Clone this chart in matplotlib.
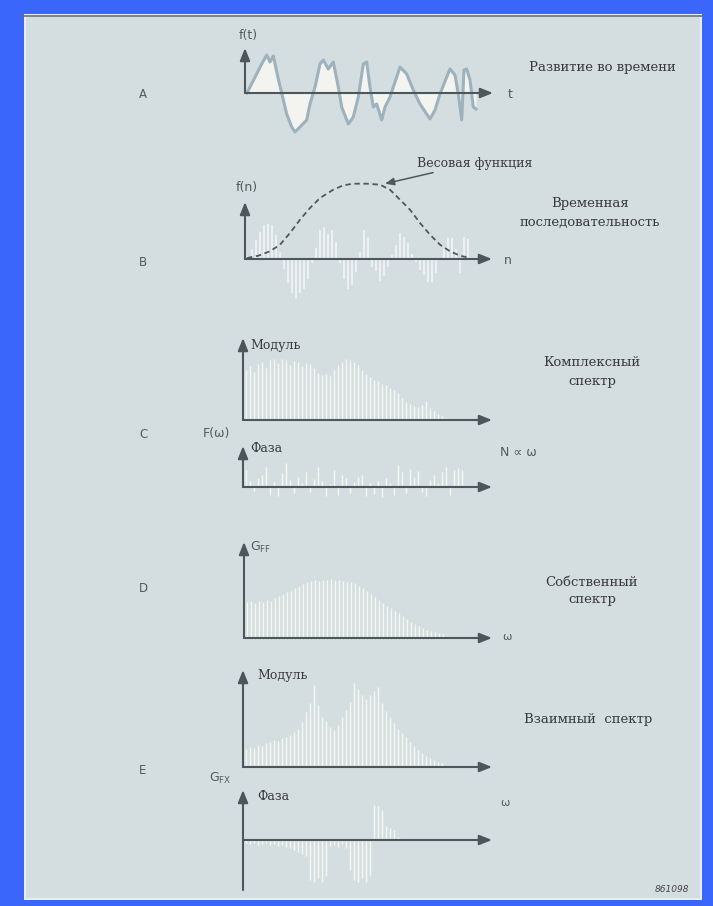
import numpy as np
import matplotlib
matplotlib.use("Agg")
import matplotlib.pyplot as plt
from matplotlib.patches import Rectangle

W, H = 713, 906

BLUE = "#3b66fb"
PAPER = "#d4dee1"
AXIS = "#4d565a"
INK = "#3a3a3a"
LABEL = "#555a5c"
BAR = "#f6f7f3"
CURVE = "#9db2bd"

# A: continuous signal f(t)
sig_t = [2, 16.7, 21.7, 25, 28.3, 33.3, 36.7, 41.7, 46.7, 50, 55, 61.7, 65, 70,
         75, 78.3, 83.3, 88.3, 93.3, 96.7, 103.3, 108.3, 113.3, 118.3, 121.7,
         125, 128.3, 131.7, 136.7, 140, 145, 151.7, 155, 161.7, 168.3, 175, 185,
         190, 195, 201.7, 205, 210, 213.3, 216.7, 219, 221.7, 225, 228.3, 231]
sig_f = [0, 29, 38, 31, 37, 14, 0, -21, -34, -39, -34, -27, -11, 6,
         29, 33, 24, 31, 6, -14, -31, -24, -4, 29, 31,
         6, -14, -11, -27, -14, -4, 16, 26, 19, 3, -11, -26,
         -17, -1, 16, 24, 18, -1, -27, 23, 24, 13, -14, -16]

# B: sampled sequence f(n) and weighting window
samp_f = [3, 10, 19, 27, 34, 35, 34, 24, 7, -10, -24, -34, -39, -34, -30, -20,
          -4, 11, 29, 32, 25, 29, 17, -4, -20, -30, -26, -13, 7, 29, 22, -8,
          -12, -22, -17, -8, 4, 14, 26, 22, 16, 5, -3, -11, -16, -23, -23, -14,
          -1, 10, 21, 21, 10, -14, 22, 20]
win_n = [2, 13.3, 25, 35, 45, 55, 65, 75, 88.3, 98.3, 108.3, 121.7, 135, 145,
         155, 165, 175, 185, 195, 205, 215, 225]
win_w = [1, 3.3, 7.7, 14.3, 26, 39.3, 51, 61, 69.3, 73.7, 75.3, 75.3, 74.3, 69.3,
         59.3, 49.3, 36, 24.3, 14.3, 7.7, 3.3, 1]

# C: complex spectrum, modulus and phase
c_mod = [50, 54, 48, 56, 58, 52, 60, 61, 57, 61, 60, 55, 59, 58, 54, 57, 56, 52,
         47, 45, 46, 44, 50, 55, 58, 61, 60, 58, 55, 50, 46, 43, 40, 39, 36, 35,
         32, 30, 27, 22, 18, 16, 14, 13, 15, 19, 12, 9, 6, 4, 2]
c_phase = [17, 6, -4, 9, 12, 20, -8, 5, -9, 14, 24, 7, -6, 10, 4, 15, -5, 8, 20,
           6, -9, 3, 17, -8, 12, 9, -6, 5, 10, 12, -9, 4, -7, 6, -10, 9, 4, -8,
           22, 15, -6, 18, 10, 16, -5, -9, 7, 12, 4, 15, 20, -8, 17, 19, 17]

# D: auto spectrum G_FF
d_gff = [36, 37, 35, 37, 36, 38, 37, 40, 42, 44, 46, 47, 50, 52, 54, 56, 57, 58,
         57, 58, 58, 59, 58, 58, 57, 56, 56, 55, 52, 50, 47, 44, 41, 38, 35, 32,
         30, 27, 25, 22, 19, 16, 14, 12, 10, 8, 7, 6, 5, 4]

# E: cross spectrum G_FX, modulus and phase
e_mod = [18, 20, 19, 22, 21, 24, 25, 27, 26, 29, 30, 32, 35, 38, 45, 55, 64, 82,
         62, 50, 46, 40, 37, 42, 50, 57, 65, 84, 78, 72, 68, 72, 76, 80, 64, 56,
         50, 44, 38, 34, 30, 25, 21, 17, 14, 11, 9, 7, 5, 4]
e_phase = [-3, -4, -3, -5, -4, -3, -5, -4, -6, -5, -7, -8, -10, -12, -14, -16,
           -40, -42, -38, -42, -36, -6, -5, -7, -4, -8, -30, -40, -42, -38, -42,
           -35, 35, 34, 30, 14, 12, 10, 3, 2, 1]

fig = plt.figure(figsize=(W / 100, H / 100), dpi=100)
fig.patch.set_facecolor(BLUE)

# page background, drawn in pixel units
bg = fig.add_axes([0, 0, 1, 1])
bg.set_xlim(0, W)
bg.set_ylim(H, 0)
bg.axis("off")
bg.add_patch(Rectangle((24, 14), 678, 886, facecolor="#e8eef0", edgecolor="none"))
bg.add_patch(Rectangle((26, 16), 674, 882, facecolor=PAPER, edgecolor="none"))
bg.plot([22, 702], [15.5, 15.5], color="#6b7276", lw=1.2)


def panel(x0, y0, left, right, up, down):
    # axes whose data origin sits at pixel (x0, y0), one data unit per pixel
    ax = fig.add_axes([(x0 - left) / W, (H - y0 - down) / H,
                       (left + right) / W, (up + down) / H])
    ax.set_xlim(-left, right)
    ax.set_ylim(-down, up)
    ax.axis("off")
    return ax


def arrows(ax, xend, ytop, ybot=0):
    style = dict(arrowstyle="-|>,head_length=0.75,head_width=0.3", color=AXIS,
                 lw=1.5, shrinkA=0, shrinkB=0)
    ax.annotate("", xy=(xend, 0), xytext=(0, 0), arrowprops=style,
                annotation_clip=False)
    ax.annotate("", xy=(0, ytop), xytext=(0, ybot), arrowprops=style,
                annotation_clip=False)


def bars(ax, heights):
    n = 3 + 4 * np.arange(len(heights))
    ax.vlines(n, 0, heights, color=BAR, lw=1.0, zorder=1)


serif = dict(family="DejaVu Serif", color=INK)
sans = dict(family="DejaVu Sans", color=LABEL)

# A
axA = panel(245, 93, 5, 255, 50, 50)
axA.fill_between(sig_t, sig_f, 0, color="#f3f4ef", lw=0, zorder=1)
axA.plot(sig_t, sig_f, color=CURVE, lw=2.2, zorder=2, solid_joinstyle="round")
arrows(axA, 248, 45)

# B
axB = panel(245, 259, 5, 255, 100, 45)
n_b = 3 + 4 * np.arange(len(samp_f))
axB.vlines(n_b, 0, samp_f, color="white", lw=1.1, alpha=0.75, zorder=1)
axB.plot(win_n, win_w, color="#50585b", lw=1.3, ls=(0, (3, 2)), zorder=2)
arrows(axB, 247, 57)
axB.annotate("Весовая функция", xy=(140, 75.3), xytext=(172, 96),
             ha="left", va="center", fontsize=9, annotation_clip=False,
             arrowprops=dict(arrowstyle="-|>,head_length=0.6,head_width=0.25",
                             color="#50585b", lw=1.1, shrinkA=1, shrinkB=0),
             **serif)

# C
axC1 = panel(243, 420, 5, 255, 85, 5)
bars(axC1, c_mod)
arrows(axC1, 249, 82)
axC1.text(7, 75, "Модуль", fontsize=9, ha="left", va="center", **serif)

axC2 = panel(243, 487, 5, 255, 45, 15)
bars(axC2, c_phase)
arrows(axC2, 249, 41)
axC2.text(7, 39, "Фаза", fontsize=9, ha="left", va="center", **serif)

# D
axD = panel(244, 638, 5, 255, 100, 5)
bars(axD, d_gff)
arrows(axD, 248, 96)
axD.text(6, 91, r"G$_{\mathregular{FF}}$", fontsize=9, ha="left", va="center",
         **sans)

# E
axE1 = panel(243, 767, 5, 255, 100, 5)
bars(axE1, e_mod)
arrows(axE1, 249, 97)
axE1.text(14, 92, "Модуль", fontsize=9, ha="left", va="center", **serif)

axE2 = panel(243, 840, 5, 255, 55, 55)
bars(axE2, e_phase)
arrows(axE2, 249, 50, -50)
axE2.text(14, 43, "Фаза", fontsize=9, ha="left", va="center", **serif)

# axis names and row letters
bg.text(248, 36, "f(t)", fontsize=9, ha="center", va="center", **sans)
bg.text(510, 95, "t", fontsize=9, ha="center", va="center", **sans)
bg.text(247, 188, "f(n)", fontsize=9, ha="center", va="center", **sans)
bg.text(508, 261, "n", fontsize=9, ha="center", va="center", **sans)
bg.text(216, 434, "F(ω)", fontsize=9, ha="center", va="center", **sans)
bg.text(500, 453, "N ∝ ω", fontsize=9, ha="left", va="center", **sans)
bg.text(507, 637, "ω", fontsize=8, ha="center", va="center", **sans)
bg.text(220, 778, r"G$_{\mathregular{FX}}$", fontsize=9, ha="center", va="center",
        **sans)
bg.text(505, 803, "ω", fontsize=8, ha="center", va="center", **sans)

for letter, y in zip("ABCDE", [95, 262, 434, 588, 770]):
    bg.text(143, y, letter, fontsize=8.5, ha="center", va="center", **sans)

# captions on the right
bg.text(602, 67, "Развитие во времени", fontsize=9.5, ha="center", va="center",
        **serif)
bg.text(590, 204, "Временная", fontsize=9.5, ha="center", va="center", **serif)
bg.text(590, 222, "последовательность", fontsize=9.5, ha="center", va="center",
        **serif)
bg.text(592, 362, "Комплексный", fontsize=9.5, ha="center", va="center", **serif)
bg.text(592, 381, "спектр", fontsize=9.5, ha="center", va="center", **serif)
bg.text(592, 582, "Собственный", fontsize=9.5, ha="center", va="center", **serif)
bg.text(592, 600, "спектр", fontsize=9.5, ha="center", va="center", **serif)
bg.text(588, 720, "Взаимный  спектр", fontsize=9.5, ha="center", va="center",
        **serif)

bg.text(672, 890, "861098", fontsize=6.5, style="italic", ha="center",
        va="center", family="DejaVu Sans", color="#444")

fig.savefig("out.png", dpi=100, facecolor=BLUE)
